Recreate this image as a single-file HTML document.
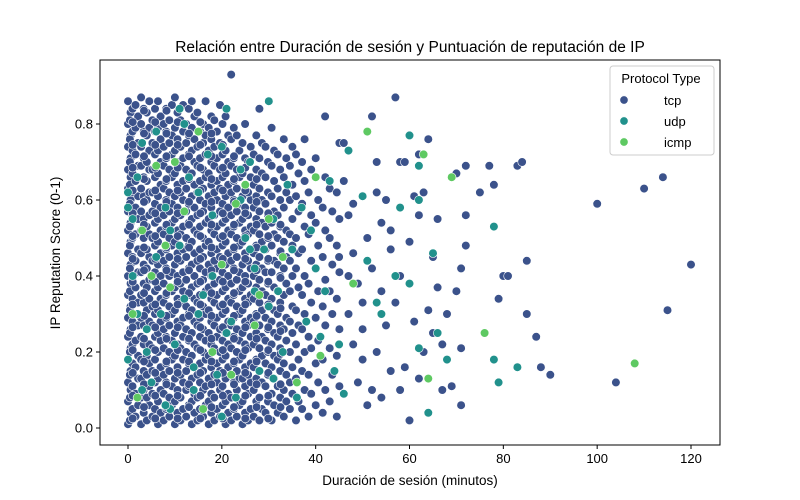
<!DOCTYPE html>
<html><head><meta charset="utf-8"><style>
body{margin:0;background:#fff;}
svg{display:block;font-family:"Liberation Sans","DejaVu Sans",sans-serif;}
</style></head><body>
<svg id="chart" width="800" height="500" viewBox="0 0 800 500">
<rect x="0" y="0" width="800" height="500" fill="#fff"/>
<text x="410" y="52" font-size="15.5" text-anchor="middle" fill="#000">Relación entre Duración de sesión y Puntuación de reputación de IP</text>
<g id="marks"></g>
<g id="axes"></g>
<rect x="100" y="60" width="620" height="385" fill="none" stroke="#000" stroke-width="1"/>
<text x="410" y="485" font-size="13.5" text-anchor="middle">Duración de sesión (minutos)</text>
<text x="60" y="253" font-size="13.5" text-anchor="middle" transform="rotate(-90 60 253)">IP Reputation Score (0-1)</text>
<g>
<rect x="610" y="66" width="104" height="89" rx="3" fill="#fff" fill-opacity="0.85" stroke="#ccc"/>
<text x="661" y="83" font-size="13" text-anchor="middle">Protocol Type</text>
<g><circle cx="624" cy="100" r="4.2" fill="#3b528b" stroke="#fff" stroke-width="0.7"/><text x="664" y="105" font-size="13">tcp</text></g>
<g><circle cx="624" cy="121" r="4.2" fill="#21918c" stroke="#fff" stroke-width="0.7"/><text x="664" y="126" font-size="13">udp</text></g>
<g><circle cx="624" cy="142" r="4.2" fill="#5ec962" stroke="#fff" stroke-width="0.7"/><text x="664" y="147" font-size="13">icmp</text></g>
</g>
</svg>
<script>
const xTicks = [0,20,40,60,80,100,120];
const yTicks = [0.0,0.2,0.4,0.6,0.8];
const yTickLabels = ["0.0","0.2","0.4","0.6","0.8"];
// dense tcp columns: [x, [y values]]
const tcpDenseCols = [
[0.0,[.01,.04,.07,.10,.12,.15,.18,.21,.24,.26,.29,.32,.35,.38,.40,.43,.46,.49,.52,.54,.57,.60,.63,.66,.68,.71,.74,.77,.80,.83,.86]],
[0.4,[.02,.05,.08,.11,.14,.17,.20,.22,.25,.28,.31,.34,.36,.39,.42,.45,.48,.50,.53,.56,.59,.62,.64,.67,.70,.73,.76,.78,.81,.84]],
[1.6,[.03,.06,.09,.13,.16,.19,.23,.27,.30,.33,.37,.41,.44,.47,.51,.55,.58,.61,.65,.69,.72,.75,.79,.82,.85]],
[2.8,[.01,.04,.08,.10,.13,.15,.18,.22,.24,.27,.29,.33,.35,.38,.41,.43,.46,.50,.52,.55,.57,.61,.63,.66,.69,.71,.74,.78,.80,.84,.87]],
[4.0,[.02,.06,.08,.11,.14,.17,.19,.22,.26,.28,.31,.34,.37,.39,.42,.45,.47,.51,.53,.56,.60,.62,.65,.68,.70,.73,.77,.79,.83,.86]],
[5.2,[.03,.05,.09,.12,.15,.18,.21,.24,.27,.30,.32,.36,.39,.41,.44,.48,.50,.54,.57,.59,.62,.66,.68,.72,.75,.78,.81,.84]],
[6.4,[.01,.04,.07,.10,.13,.16,.20,.23,.25,.28,.31,.34,.37,.40,.43,.46,.49,.52,.55,.58,.61,.64,.67,.70,.73,.76,.79,.82,.86]],
[7.6,[.02,.05,.09,.12,.14,.17,.21,.24,.26,.29,.33,.35,.38,.42,.44,.47,.51,.53,.56,.60,.63,.65,.69,.71,.74,.78,.80,.84]],
[8.8,[.03,.06,.08,.11,.15,.18,.20,.23,.27,.30,.32,.36,.40,.41,.45,.48,.50,.54,.57,.59,.62,.66,.68,.72,.75,.77,.81,.85]],
[10.0,[.01,.04,.07,.10,.13,.16,.19,.22,.25,.28,.31,.34,.37,.40,.43,.46,.49,.52,.55,.58,.61,.64,.67,.70,.73,.76,.79,.83,.87]],
[11.2,[.02,.05,.08,.12,.14,.18,.21,.24,.27,.29,.33,.36,.38,.41,.44,.47,.51,.53,.56,.60,.62,.65,.69,.71,.74,.78,.81,.85]],
[12.4,[.03,.06,.10,.11,.15,.17,.20,.23,.26,.30,.32,.35,.39,.42,.45,.48,.50,.54,.57,.59,.63,.66,.68,.72,.75,.77,.80,.84]],
[13.6,[.01,.04,.07,.09,.13,.16,.19,.22,.25,.28,.31,.34,.37,.40,.43,.46,.49,.52,.55,.58,.61,.64,.67,.70,.73,.76,.79,.82,.86]],
[14.8,[.02,.05,.08,.12,.14,.17,.21,.24,.27,.29,.33,.35,.38,.42,.44,.47,.51,.53,.56,.60,.62,.65,.69,.71,.74,.78,.83]],
[16.0,[.03,.06,.10,.11,.15,.18,.20,.23,.26,.30,.32,.36,.39,.41,.45,.48,.50,.54,.57,.59,.63,.66,.68,.72,.75,.77,.80,.86]],
[17.2,[.01,.04,.07,.09,.13,.16,.19,.22,.25,.28,.31,.34,.37,.40,.43,.46,.49,.52,.55,.58,.61,.64,.67,.70,.73,.76,.79,.82]],
[18.4,[.02,.05,.08,.12,.14,.17,.21,.24,.27,.29,.33,.35,.38,.42,.44,.47,.51,.53,.56,.60,.62,.65,.69,.71,.74,.78,.81]],
[19.6,[.03,.06,.10,.11,.15,.18,.20,.23,.26,.30,.32,.36,.39,.41,.45,.48,.50,.54,.57,.59,.63,.66,.68,.72,.75,.80,.85]],
[20.8,[.01,.04,.07,.09,.13,.16,.19,.22,.25,.28,.31,.34,.37,.40,.43,.46,.49,.52,.55,.58,.61,.64,.67,.70,.73,.77,.82]],
[22.0,[.02,.05,.08,.12,.14,.17,.21,.24,.27,.29,.33,.35,.38,.42,.44,.47,.51,.53,.56,.60,.62,.65,.69,.71,.76,.79]],
[23.2,[.03,.06,.10,.13,.15,.18,.20,.23,.26,.30,.32,.36,.39,.41,.45,.48,.50,.54,.57,.59,.63,.66,.68,.73,.77]],
[24.4,[.01,.04,.07,.11,.13,.16,.19,.22,.25,.28,.31,.34,.37,.40,.43,.46,.49,.52,.55,.58,.61,.64,.67,.71,.75,.80]],
[25.6,[.02,.05,.09,.12,.14,.17,.21,.24,.27,.29,.33,.35,.38,.42,.44,.47,.51,.53,.56,.60,.62,.66,.70,.74]],
[26.8,[.03,.07,.10,.13,.16,.18,.22,.25,.28,.30,.34,.37,.40,.43,.46,.48,.52,.55,.58,.61,.64,.68,.72,.77]],
[28.0,[.02,.05,.08,.12,.15,.19,.21,.24,.27,.31,.33,.36,.39,.42,.45,.49,.51,.54,.57,.60,.63,.67,.71,.75,.84]],
[29.3,[.04,.07,.11,.14,.17,.20,.23,.26,.29,.32,.35,.38,.41,.44,.47,.50,.53,.56,.59,.62,.66,.70,.74]],
[30.6,[.02,.06,.09,.13,.16,.19,.22,.25,.28,.31,.34,.37,.41,.44,.48,.51,.54,.57,.61,.65,.69,.73,.79]],
[31.9,[.04,.08,.11,.15,.18,.21,.24,.27,.30,.33,.36,.40,.43,.46,.50,.53,.56,.60,.63,.68,.72]],
[33.2,[.03,.07,.10,.14,.17,.23,.26,.29,.35,.38,.42,.45,.49,.52,.58,.62,.66,.71,.76]],
[34.5,[.05,.09,.12,.16,.20,.25,.28,.32,.36,.40,.44,.48,.51,.55,.60,.64,.69,.74]],
[35.8,[.02,.07,.13,.18,.22,.27,.31,.37,.42,.46,.50,.57,.61,.67,.72]],
[37.1,[.05,.10,.15,.20,.26,.30,.35,.40,.47,.53,.59,.65,.70,.76]],
[38.5,[.03,.09,.14,.21,.24,.33,.38,.44,.51,.56,.62,.68]],
[40.0,[.06,.12,.17,.23,.29,.36,.42,.48,.54,.60,.71]],
[41.5,[.04,.10,.18,.27,.32,.39,.45,.52,.58,.66]],
[43.0,[.07,.14,.21,.30,.36,.43,.50,.57,.63]],
[44.5,[.03,.11,.19,.26,.34,.41,.48,.55,.62,.75]]
];
// extra fill columns for the dense core
const tcpFillCols = [
[1.0,[.025,.085,.145,.205,.265,.325,.385,.445,.505,.565,.625,.685,.745,.805]],
[3.4,[.055,.115,.175,.235,.295,.355,.415,.475,.535,.595,.655,.715,.775,.835]],
[5.8,[.025,.085,.145,.205,.265,.325,.385,.445,.505,.565,.625,.685,.745,.805]],
[8.2,[.055,.115,.175,.235,.295,.355,.415,.475,.535,.595,.655,.715,.775,.835]],
[10.6,[.025,.085,.145,.205,.265,.325,.385,.445,.505,.565,.625,.685,.745,.805]],
[13.0,[.055,.115,.175,.235,.295,.355,.415,.475,.535,.595,.655,.715,.775]],
[15.4,[.025,.085,.145,.205,.265,.325,.385,.445,.505,.565,.625,.685,.745,.805]],
[17.8,[.055,.115,.175,.235,.295,.355,.415,.475,.535,.595,.655,.715,.775]],
[20.2,[.025,.085,.145,.205,.265,.325,.385,.445,.505,.565,.625,.685,.745]],
[22.6,[.055,.115,.175,.235,.295,.355,.415,.475,.535,.595,.655,.715]],
[25.0,[.025,.085,.145,.205,.265,.325,.385,.445,.505,.565,.625,.685]],
[27.4,[.055,.115,.175,.235,.295,.355,.415,.475,.535,.595,.655]],
[29.9,[.025,.085,.145,.205,.265,.325,.385,.445,.505,.565]],
[32.5,[.055,.115,.195,.255,.315,.395,.465,.535]]
];
const tcpSparseX = [57,52,60,64,58,59,62,70,72,77,83,84,75,78,72,100,110,114,120,115,104,90,88,85,87,80,81,85,79,72,71,70,68,71,67,69,71,60,58,63,65,66,65,60,62,63,55,54,56,58,57,55,53,56,54,51,49,48,47,49,48,47,46,42,45,47,50,52,51,53,61,59,62,64,67,66,61,22,46,48,50,52,54,56,50,53];
const tcpSparseY = [.87,.82,.77,.76,.70,.70,.72,.67,.69,.69,.69,.70,.62,.64,.56,.59,.63,.66,.43,.31,.12,.14,.16,.30,.24,.40,.40,.44,.34,.48,.42,.36,.30,.21,.10,.11,.06,.02,.10,.20,.25,.37,.45,.49,.56,.62,.60,.54,.47,.40,.33,.27,.20,.15,.08,.06,.12,.22,.30,.38,.46,.56,.65,.82,.45,.40,.33,.42,.50,.62,.28,.16,.13,.31,.22,.55,.61,.93,.75,.59,.18,.10,.36,.52,.26,.70];
const udpX = [78,78,83,79,60,62,62,65,66,62,64,68,57,60,54,47,43,50,58,51,45,46,40,35,32,30,21,3,8,15,2,5,10,18,25,28,12,20,6,26,33,22,14,17,1,9,24,30,37,16,4,11,19,27,13,7,23,0,0,1,2,4,6,9,12,14,18,21,24,27,29,31,34,36,38,39,42,44,0,3,8,11,15,20,26,31,41,53];
const udpY = [.53,.18,.16,.12,.77,.69,.60,.46,.25,.21,.04,.18,.40,.38,.30,.73,.65,.61,.58,.44,.22,.09,.42,.47,.36,.86,.84,.75,.58,.62,.30,.12,.22,.40,.50,.15,.80,.03,.45,.70,.20,.28,.10,.72,.55,.05,.60,.32,.58,.35,.20,.48,.14,.42,.66,.30,.08,.62,.18,.40,.66,.26,.78,.52,.34,.16,.56,.25,.68,.36,.47,.13,.64,.08,.28,.52,.36,.15,.58,.10,.06,.84,.30,.74,.47,.55,.24,.33,.12];
const icmpX = [51,76,108,69,63,64,48,40,20,22,3,6,12,15,9,25,18,30,2,27,33,16,5,10,41,36,1,8,23,28];
const icmpY = [.78,.25,.17,.66,.72,.13,.38,.66,.43,.14,.52,.69,.57,.78,.37,.64,.20,.55,.08,.27,.45,.05,.40,.70,.19,.12,.30,.48,.59,.35];

const X0=100,X1=720,Y0=445,Y1=60;
function sx(v){return 128+(v-0)*(691-128)/120;}
function sy(v){return 428-v*(428-124)/0.8;}
const NS="http://www.w3.org/2000/svg";
const marks=document.getElementById('marks');
function dot(x,y,color,name){
  const c=document.createElementNS(NS,'circle');
  c.setAttribute('cx',sx(x).toFixed(1));
  c.setAttribute('cy',sy(y).toFixed(1));
  c.setAttribute('r','4.3');
  c.setAttribute('fill',color);
  c.setAttribute('stroke','#fff');
  c.setAttribute('stroke-width','0.6');
  
  
  marks.appendChild(c);
}
const TCP="#3b528b",UDP="#21918c",ICMP="#5ec962";
tcpDenseCols.forEach(function(col){
  col[1].forEach(function(y,j){
    const xo=(j%2)*0.55;
    dot(col[0]+xo,y,TCP,'point-tcp');
  });
});
tcpFillCols.forEach(function(col){
  col[1].forEach(function(y){dot(col[0],y,TCP,'point-tcp');});
});
tcpSparseX.forEach(function(x,i){dot(x,tcpSparseY[i],TCP,'point-tcp');});
udpX.forEach(function(x,i){dot(x,udpY[i],UDP,'point-udp');});
icmpX.forEach(function(x,i){dot(x,icmpY[i],ICMP,'point-icmp');});

const axes=document.getElementById('axes');
xTicks.forEach(function(t){
  const l=document.createElementNS(NS,'line');
  l.setAttribute('x1',sx(t));l.setAttribute('x2',sx(t));
  l.setAttribute('y1',Y0);l.setAttribute('y2',Y0+4);
  l.setAttribute('stroke','#000');
  
  
  axes.appendChild(l);
  const tx=document.createElementNS(NS,'text');
  tx.setAttribute('x',sx(t));tx.setAttribute('y',Y0+18);
  tx.setAttribute('font-size','13');tx.setAttribute('text-anchor','middle');
  tx.textContent=String(t);
  
  
  axes.appendChild(tx);
});
yTicks.forEach(function(t,i){
  const l=document.createElementNS(NS,'line');
  l.setAttribute('x1',X0-4);l.setAttribute('x2',X0);
  l.setAttribute('y1',sy(t));l.setAttribute('y2',sy(t));
  l.setAttribute('stroke','#000');
  
  
  axes.appendChild(l);
  const tx=document.createElementNS(NS,'text');
  tx.setAttribute('x',X0-7);tx.setAttribute('y',sy(t)+4.5);
  tx.setAttribute('font-size','13');tx.setAttribute('text-anchor','end');
  tx.textContent=yTickLabels[i];
  
  
  axes.appendChild(tx);
});
</script>
</body></html>
